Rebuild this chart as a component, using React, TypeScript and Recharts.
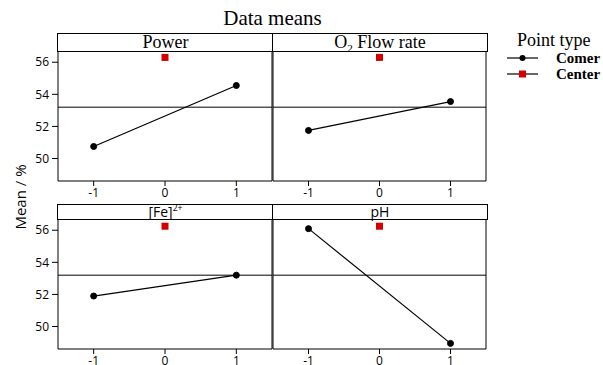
import { LineChart, Line, XAxis, YAxis, ReferenceLine } from "recharts"

// main effects plot, data means
const factors = ["Power", "O₂ Flow rate", "[Fe]²⁺", "pH"]
const levels = [-1, 0, 1]
const cornerLow = [50.75, 51.75, 51.9, 56.1]
const cornerHigh = [54.55, 53.55, 53.2, 48.95]
const centerMeans = [56.3, 56.3, 56.25, 56.25]
const overallMean = 53.2
const yTicks = [50, 52, 54, 56]

const Y_MIN = 48.6
const Y_MAX = 56.7
const X_MIN = -1.5
const X_MAX = 1.5
const PLOT_H = 130
const sans = "'Open Sans', 'DejaVu Sans', sans-serif"
const serif = "'Liberation Serif', 'Times New Roman', serif"

const panels = [
    { left: 58, top: 33, width: 215, strip: 18, showY: true, stripFont: serif, stripSize: 18 },
    { left: 273, top: 33, width: 214, strip: 18, showY: false, stripFont: serif, stripSize: 18 },
    { left: 58, top: 204, width: 215, strip: 15, showY: true, stripFont: sans, stripSize: 14 },
    { left: 273, top: 204, width: 214, strip: 15, showY: false, stripFont: sans, stripSize: 14 },
]

const SquareDot = (props: any) => {
    const { cx, cy, index } = props
    if (cx == null || cy == null) return <g key={`sq-${index}`} />
    return <rect key={`sq-${index}`} x={cx - 3.5} y={cy - 3.5} width={7} height={7} fill="#d40000" />
}

// sub/superscript characters become small shifted spans
const subs: Record<string, string> = { "₂": "2" }
const sups: Record<string, string> = { "²": "2", "⁺": "+" }

function StripText({ text, size }: { text: string; size: number }) {
    const parts: { t: string; k: string }[] = []
    for (const ch of text) {
        const k = subs[ch] ? "sub" : sups[ch] ? "sup" : "n"
        const t = subs[ch] || sups[ch] || ch
        const last = parts[parts.length - 1]
        if (last && last.k === k) last.t += t
        else parts.push({ t, k })
    }
    return (
        <>
            {parts.map((p, j) =>
                p.k === "n" ? (
                    <span key={j}>{p.t}</span>
                ) : (
                    <span key={j} style={{ fontSize: size * 0.62, position: "relative", top: p.k === "sub" ? size * 0.22 : -size * 0.4 }}>
                        {p.t}
                    </span>
                )
            )}
        </>
    )
}

function Panel({ i }: { i: number }) {
    const p = panels[i]
    const data = levels.map((x) => ({
        x,
        corner: x === -1 ? cornerLow[i] : x === 1 ? cornerHigh[i] : null,
        center: x === 0 ? centerMeans[i] : null,
    }))
    const plotTop = p.top + p.strip
    const height = 5 + PLOT_H + 30

    return (
        <>
            <div style={{ position: "absolute", left: p.left - 60, top: plotTop - 5 }}>
                <LineChart width={p.width + 70} height={height} data={data} margin={{ top: 5, right: 10, bottom: 5, left: 20 }}>
                    <XAxis
                        dataKey="x"
                        type="number"
                        domain={[X_MIN, X_MAX]}
                        ticks={levels}
                        allowDataOverflow
                        height={25}
                        axisLine={{ stroke: "#000" }}
                        tickSize={5}
                        tickMargin={2}
                        tickLine={{ stroke: "#000" }}
                        tick={{ fill: "#000", fontSize: 12, fontFamily: sans }}
                    />
                    <YAxis
                        type="number"
                        domain={[Y_MIN, Y_MAX]}
                        ticks={yTicks}
                        allowDataOverflow
                        width={40}
                        axisLine={{ stroke: "#000" }}
                        tickSize={p.showY ? 6 : 0}
                        tickMargin={3}
                        tickLine={p.showY ? { stroke: "#000" } : false}
                        tick={p.showY ? { fill: "#000", fontSize: 12, fontFamily: sans } : false}
                    />
                    <YAxis yAxisId="right" orientation="right" type="number" domain={[Y_MIN, Y_MAX]} width={1} axisLine={{ stroke: "#000" }} tick={false} tickLine={false} />
                    <ReferenceLine y={overallMean} stroke="#000" strokeWidth={1} />
                    <Line
                        dataKey="corner"
                        stroke="#000"
                        strokeWidth={1.2}
                        connectNulls
                        dot={{ r: 3, fill: "#000", stroke: "#000", strokeWidth: 1 }}
                        activeDot={false}
                        isAnimationActive={false}
                    />
                    <Line dataKey="center" stroke="none" dot={SquareDot} activeDot={false} isAnimationActive={false} />
                </LineChart>
            </div>
            <div
                style={{
                    position: "absolute",
                    left: p.left - 1,
                    top: p.top,
                    width: p.width + 2,
                    height: p.strip + 1,
                    boxSizing: "border-box",
                    border: "1px solid #000",
                    background: "#fff",
                    textAlign: "center",
                    fontFamily: p.stripFont,
                    fontSize: p.stripSize,
                    lineHeight: `${p.strip - 1}px`,
                    whiteSpace: "nowrap",
                }}
            >
                <StripText text={factors[i]} size={p.stripSize} />
            </div>
        </>
    )
}

export default function App() {
    return (
        <div style={{ position: "absolute", left: 0, top: 0, width: 603, height: 365, overflow: "hidden", background: "#fff" }}>
            <div style={{ position: "absolute", left: 58, width: 429, top: 5, textAlign: "center", fontFamily: serif, fontSize: 21, lineHeight: "26px" }}>
                Data means
            </div>
            <div
                style={{
                    position: "absolute",
                    left: 20 - 60,
                    top: 197 - 10,
                    width: 120,
                    height: 20,
                    lineHeight: "20px",
                    textAlign: "center",
                    transform: "rotate(-90deg)",
                    fontFamily: sans,
                    fontSize: 15,
                }}
            >
                Mean / %
            </div>
            {panels.map((_, i) => (
                <Panel key={i} i={i} />
            ))}
            <div style={{ position: "absolute", left: 505, top: 30, width: 98 }}>
                <div style={{ fontFamily: serif, fontSize: 18, lineHeight: "20px", marginLeft: 12 }}>Point type</div>
                {[
                    { name: "Comer", square: false },
                    { name: "Center", square: true },
                ].map((it) => (
                    <div key={it.name} style={{ display: "flex", alignItems: "center", height: 16 }}>
                        <svg width={34} height={10}>
                            <line x1={2} x2={33} y1={5} y2={5} stroke="#000" strokeWidth={1.2} />
                            {it.square ? <rect x={14} y={1.5} width={7} height={7} fill="#d40000" /> : <circle cx={17.5} cy={5} r={3} fill="#000" />}
                        </svg>
                        <span style={{ marginLeft: 17, fontFamily: serif, fontWeight: "bold", fontSize: 15, lineHeight: "16px" }}>{it.name}</span>
                    </div>
                ))}
            </div>
        </div>
    )
}
